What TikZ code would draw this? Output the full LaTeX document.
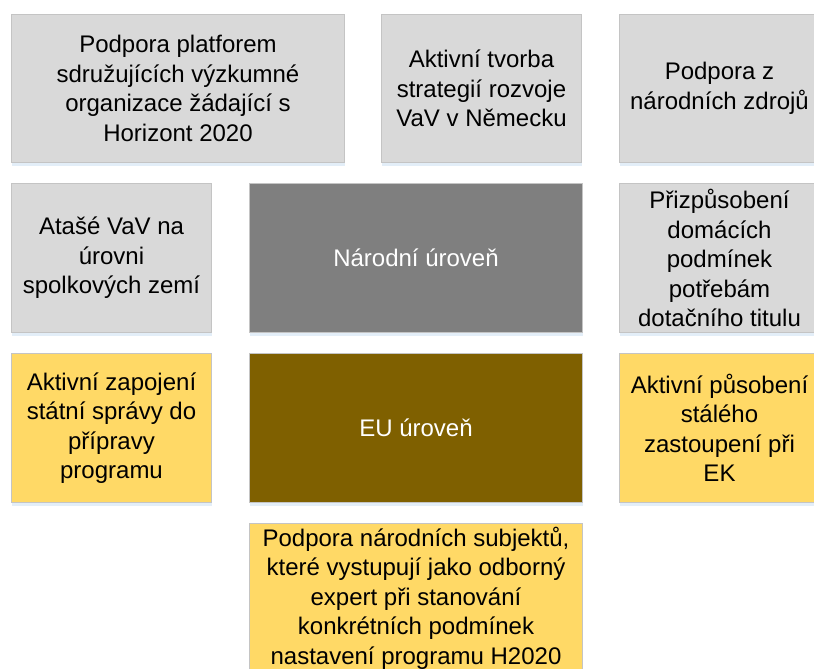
\documentclass[tikz,border=0pt]{standalone}
\usepackage{fontspec}
\setmainfont{Liberation Sans}
\usetikzlibrary{shadows}
\definecolor{boxgray}{HTML}{D9D9D9}
\definecolor{darkgray}{HTML}{7F7F7F}
\definecolor{brownbox}{HTML}{7F6000}
\definecolor{yellowbox}{HTML}{FFD966}
\definecolor{edgegray}{HTML}{C4C4C4}
\definecolor{shadowblue}{HTML}{E3EEF8}
\begin{document}
\begin{tikzpicture}[x=1pt,y=-1pt,
  base/.style={anchor=north west, draw=edgegray, line width=1pt, align=center,
    inner sep=0pt, font=\fontsize{24}{29.5}\selectfont,
    drop shadow={shadow xshift=0pt, shadow yshift=-3pt, fill=shadowblue, opacity=1}},
  wide/.style={minimum width=333pt},
  narrow/.style={minimum width=200pt},
  rowa/.style={minimum height=148pt},
  rowb/.style={minimum height=149pt},
  graybox/.style={base, fill=boxgray, text=black},
  centerbox/.style={base, fill=darkgray, text=white},
  brownbx/.style={base, fill=brownbox, text=white},
  yellowbx/.style={base, fill=yellowbox, text=black}]
\useasboundingbox (0,0) rectangle (814,669);
\begin{scope}
\clip (0,0) rectangle (814,669);
\node[graybox, wide, rowa] (a) at (11,14) {Podpora platforem\\sdružujících výzkumné\\organizace žádající s\\Horizont 2020};
\node[graybox, narrow, rowa] (b) at (381,14) {Aktivní tvorba\\strategií rozvoje\\VaV v Německu};
\node[graybox, narrow, rowa] (c) at (619,14) {Podpora z\\národních zdrojů};
\node[graybox, narrow, rowb] (d) at (11,183) {Atašé VaV na\\úrovni\\spolkových zemí};
\node[centerbox, wide, rowb] (e) at (249,183) {Národní úroveň};
\node[graybox, narrow, rowb] (f) at (619,183) {Přizpůsobení\\domácích\\podmínek\\potřebám\\dotačního titulu};
\node[yellowbx, narrow, rowb] (g) at (11,353) {Aktivní zapojení\\státní správy do\\přípravy\\programu};
\node[brownbx, wide, rowb] (h) at (249,353) {EU úroveň};
\node[yellowbx, narrow, rowb] (i) at (619,353) {Aktivní působení\\stálého\\zastoupení při\\EK};
\node[yellowbx, wide, rowb] (j) at (249,523) {Podpora národních subjektů,\\které vystupují jako odborný\\expert při stanování\\konkrétních podmínek\\nastavení programu H2020};
\end{scope}
\end{tikzpicture}
\end{document}
